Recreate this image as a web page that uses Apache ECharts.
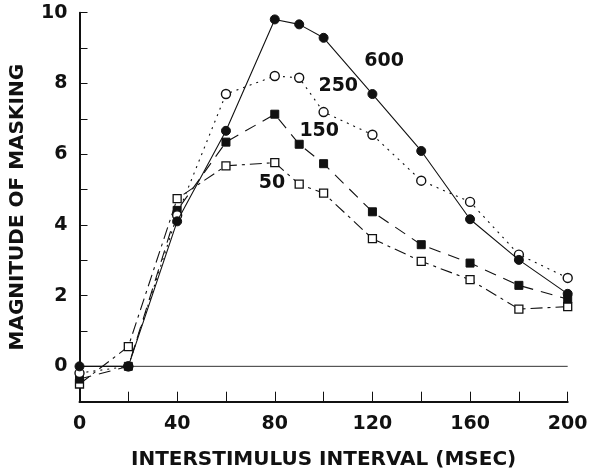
<!DOCTYPE html>
<html>
<head>
<meta charset="utf-8">
<script src="https://cdn.jsdelivr.net/npm/echarts@6/dist/echarts.min.js"></script>
<style>
html,body{margin:0;padding:0;background:#fff;}
#chart{width:592px;height:468px;}
</style>
</head>
<body>
<div id="chart"></div>
<script>
// ---- data ----
var intervals = [0, 20, 40, 60, 80, 90, 100, 120, 140, 160, 180, 200];
var mask600 = [0.0, 0.0, 4.10, 6.66, 9.81, 9.67, 9.29, 7.70, 6.09, 4.16, 3.01, 2.05];
var mask250 = [-0.19, 0.0, 4.27, 7.70, 8.21, 8.16, 7.19, 6.55, 5.25, 4.65, 3.16, 2.50];
var mask150 = [-0.36, 0.0, 4.41, 6.34, 7.13, 6.28, 5.73, 4.37, 3.44, 2.92, 2.29, 1.90];
var mask50 = [-0.50, 0.56, 4.74, 5.67, 5.76, 5.15, 4.90, 3.61, 2.97, 2.45, 1.62, 1.69];
var seriesNames = ['600', '250', '150', '50'];
var zeroLineX = [0, 200];
var zeroLineY = [0, 0];
var xTitle = 'INTERSTIMULUS INTERVAL (MSEC)';
var yTitle = 'MAGNITUDE OF MASKING';

function pairs(xs, ys) { return xs.map(function (x, i) { return [x, ys[i]]; }); }

var FONT = '"DejaVu Sans", sans-serif';
var INK = '#111';

function labelMark(name, coord) {
  return {
    symbol: 'circle', symbolSize: 0, silent: true,
    data: [{ coord: coord, value: name }],
    label: { show: true, position: 'inside', formatter: name, color: INK,
             fontFamily: FONT, fontWeight: 'bold', fontSize: 19 }
  };
}

var chart = echarts.init(document.getElementById('chart'), null, { renderer: 'canvas' });
chart.setOption({
  animation: false,
  backgroundColor: '#fff',
  grid: { left: 79.5, right: 24.3, top: 12.7, bottom: 66.3, containLabel: false, outerBoundsMode: 'none' },
  xAxis: {
    type: 'value', min: 0, max: 200, interval: 20,
    name: xTitle, nameLocation: 'middle', nameGap: 48,
    nameTextStyle: { fontFamily: FONT, fontWeight: 'bold', fontSize: 20, color: INK },
    axisLine: { show: true, onZero: false, lineStyle: { color: INK, width: 2 } },
    axisTick: { show: true, inside: true, length: 10, lineStyle: { color: INK, width: 1 } },
    axisLabel: { margin: 13, fontFamily: FONT, fontWeight: 'bold', fontSize: 19, color: INK,
      formatter: function (v) { return v % 40 === 0 ? String(v) : ''; } },
    splitLine: { show: false }
  },
  yAxis: {
    type: 'value', min: -1, max: 10, interval: 1,
    name: yTitle, nameLocation: 'middle', nameGap: 52,
    nameTextStyle: { fontFamily: FONT, fontWeight: 'bold', fontSize: 20, color: INK },
    axisLine: { show: true, onZero: false, lineStyle: { color: INK, width: 2 } },
    axisTick: { show: true, inside: true, length: 8, lineStyle: { color: INK, width: 1 } },
    axisLabel: { margin: 12, fontFamily: FONT, fontWeight: 'bold', fontSize: 19, color: INK,
      formatter: function (v) { return (v >= 0 && v % 2 === 0) ? String(v) : ''; } },
    splitLine: { show: false }
  },
  series: [
    {
      name: 'zero', type: 'line', data: pairs(zeroLineX, zeroLineY), symbol: 'none', silent: true,
      lineStyle: { color: '#333', width: 1 }, z: 1
    },
    {
      name: seriesNames[3], type: 'line', data: pairs(intervals, mask50),
      symbol: 'rect', symbolSize: 8,
      itemStyle: { color: '#fff', borderColor: INK, borderWidth: 1.3 },
      lineStyle: { color: INK, width: 1.1, type: [12, 5, 3, 5] },
      markPoint: labelMark(seriesNames[3], [78.9, 5.19]), z: 3
    },
    {
      name: seriesNames[2], type: 'line', data: pairs(intervals, mask150),
      symbol: 'rect', symbolSize: 8,
      itemStyle: { color: INK, borderColor: INK, borderWidth: 1 },
      lineStyle: { color: INK, width: 1.1, type: [12, 8] },
      markPoint: labelMark(seriesNames[2], [98.2, 6.66]), z: 4
    },
    {
      name: seriesNames[1], type: 'line', data: pairs(intervals, mask250),
      symbol: 'circle', symbolSize: 9,
      itemStyle: { color: '#fff', borderColor: INK, borderWidth: 1.4 },
      lineStyle: { color: INK, width: 1.1, type: [2, 5] },
      markPoint: labelMark(seriesNames[1], [106, 7.93]), z: 5
    },
    {
      name: seriesNames[0], type: 'line', data: pairs(intervals, mask600),
      symbol: 'circle', symbolSize: 9,
      itemStyle: { color: INK, borderColor: INK, borderWidth: 1 },
      lineStyle: { color: INK, width: 1.1, type: 'solid' },
      markPoint: labelMark(seriesNames[0], [124.8, 8.64]), z: 6
    }
  ]
});
</script>
</body>
</html>
